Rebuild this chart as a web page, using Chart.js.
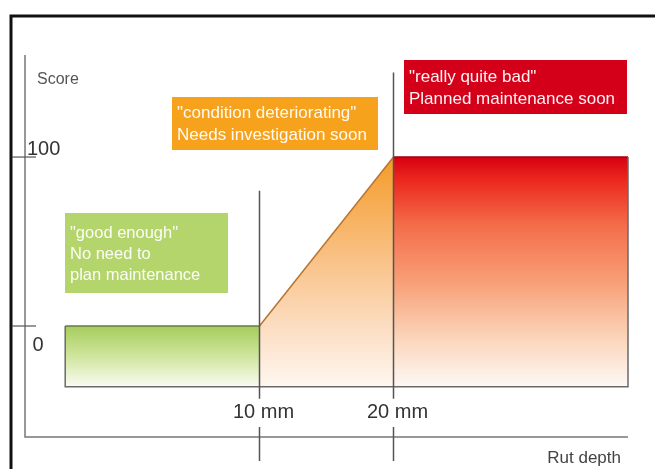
<!DOCTYPE html>
<html>
<head>
<meta charset="utf-8">
<title>Rut depth score</title>
<script src="https://cdn.jsdelivr.net/npm/chart.js@4.4.1/dist/chart.umd.min.js"></script>
<style>
  html, body { margin: 0; padding: 0; background: #fff; }
  #wrap { width: 655px; height: 469px; }
</style>
</head>
<body>
<div id="wrap"><canvas id="c" width="655" height="469"></canvas></div>
<script>
// Rut depth (mm) at the corners of the score curve
const rutDepth = [-4.5, 10, 20, 37.5];
// Score at each of those depths
const score = [0, 0, 100, 100];
// Lower edge of the shaded bands
const baseScore = -36;

// Condition zones: each spans two neighbouring curve points
const zoneNames = ['good enough', 'condition deteriorating', 'really quite bad'];
const zoneNotes = [
  ['"good enough"', 'No need to', 'plan maintenance'],
  ['"condition deteriorating"', 'Needs investigation soon'],
  ['"really quite bad"', 'Planned maintenance soon']
];

// Axis ticks
const xTickValues = [10, 20];
const xTickLabels = ['10 mm', '20 mm'];
const yTickValues = [100, 0];
const yTickLabels = ['100', '0'];
// How high the threshold markers reach (score units)
const markerTops = [80, 150];

const FONT = '"Liberation Sans", Arial, Helvetica, sans-serif';

function zoneData(i) {
  return [
    { x: rutDepth[i], y: score[i] },
    { x: rutDepth[i + 1], y: score[i + 1] }
  ];
}

function gradient(stops) {
  return function (ctx) {
    const chart = ctx.chart;
    const y = chart.scales.y;
    if (!y || !chart.chartArea) return stops[0][1];
    const top = y.getPixelForValue(stops.top);
    const bottom = y.getPixelForValue(baseScore);
    const g = chart.ctx.createLinearGradient(0, top, 0, bottom);
    stops.forEach(s => g.addColorStop(s[0], s[1]));
    return g;
  };
}

const greenStops = [[0, 'rgb(166,205,92)'], [0.5, 'rgb(208,229,158)'], [1, 'rgb(250,252,242)']];
greenStops.top = 0;
const orangeStops = [[0, 'rgb(245,155,40)'], [0.45, 'rgb(249,194,136)'], [0.75, 'rgb(252,222,195)'], [1, 'rgb(255,247,240)']];
orangeStops.top = 100;
const redStops = [[0, 'rgb(214,0,18)'], [0.1, 'rgb(236,40,30)'], [0.3, 'rgb(244,110,75)'], [0.55, 'rgb(248,160,120)'], [0.8, 'rgb(252,215,190)'], [1, 'rgb(253,248,245)']];
redStops.top = 100;

const zoneFills = [gradient(greenStops), gradient(orangeStops), gradient(redStops)];
const zoneLines = ['#66784a', '#b87530', '#a0000f'];

// Labelled boxes describing each zone (pixel layout)
const noteBoxes = [
  { left: 65, top: 213, w: 163, h: 80, color: '#b4d56c', line: 21, first: 233, size: 16.5 },
  { left: 172, top: 97, w: 206, h: 53, color: '#f6a21c', line: 22, first: 113, size: 17 },
  { left: 404, top: 60, w: 223, h: 54, color: '#d4001a', line: 22, first: 77, size: 17 }
];

const decor = {
  id: 'decor',
  beforeDraw(chart) {
    const c = chart.ctx;
    c.save();
    c.fillStyle = '#fff';
    c.fillRect(0, 0, chart.width, chart.height);
    c.restore();
  },
  afterDatasetsDraw(chart) {
    const c = chart.ctx;
    const xs = chart.scales.x, ys = chart.scales.y;
    const area = chart.chartArea;
    c.save();

    // outer frame
    c.strokeStyle = '#111';
    c.lineWidth = 3;
    c.beginPath();
    c.moveTo(11, chart.height + 2);
    c.lineTo(11, 16);
    c.lineTo(chart.width + 2, 16);
    c.stroke();

    // band outline (left, bottom, right)
    const x0 = xs.getPixelForValue(rutDepth[0]);
    const x1 = xs.getPixelForValue(rutDepth[rutDepth.length - 1]);
    const yb = ys.getPixelForValue(baseScore);
    c.strokeStyle = '#6a6a6a';
    c.lineWidth = 1.5;
    c.beginPath();
    c.moveTo(x0, ys.getPixelForValue(score[0]));
    c.lineTo(x0, yb);
    c.lineTo(x1, yb);
    c.lineTo(x1, ys.getPixelForValue(score[score.length - 1]));
    c.stroke();

    // axes
    c.strokeStyle = '#777';
    c.lineWidth = 1.5;
    c.beginPath();
    c.moveTo(area.left, area.top);
    c.lineTo(area.left, area.bottom);
    c.lineTo(area.right, area.bottom);
    c.stroke();

    // y ticks
    c.strokeStyle = '#555';
    c.lineWidth = 1.2;
    c.fillStyle = '#333';
    c.font = '20px ' + FONT;
    c.textBaseline = 'middle';
    yTickValues.forEach((v, i) => {
      const py = ys.getPixelForValue(v);
      c.beginPath();
      c.moveTo(12, py);
      c.lineTo(area.left + 11, py);
      c.stroke();
      if (v > 0) {
        c.textAlign = 'left';
        c.fillText(yTickLabels[i], area.left + 2, py - 8);
      } else {
        c.textAlign = 'center';
        c.fillText(yTickLabels[i], area.left + 13, py + 19);
      }
    });

    // threshold markers and x tick labels
    c.strokeStyle = '#555';
    c.lineWidth = 1.5;
    xTickValues.forEach((v, i) => {
      const px = xs.getPixelForValue(v);
      c.beginPath();
      c.moveTo(px, ys.getPixelForValue(markerTops[i]));
      c.lineTo(px, yb + 12);
      c.moveTo(px, area.bottom - 10);
      c.lineTo(px, chart.height - 8);
      c.stroke();
      c.textAlign = 'center';
      c.fillStyle = '#333';
      c.font = '20px ' + FONT;
      c.fillText(xTickLabels[i], px + 4, yb + 26);
    });

    // axis titles
    c.fillStyle = '#555';
    c.font = '16px ' + FONT;
    c.textAlign = 'left';
    c.fillText('Score', area.left + 12, 80);
    c.fillStyle = '#444';
    c.font = '17px ' + FONT;
    c.textAlign = 'right';
    c.fillText('Rut depth', area.right - 7, area.bottom + 21);

    // zone notes
    noteBoxes.forEach((b, i) => {
      c.fillStyle = b.color;
      c.fillRect(b.left, b.top, b.w, b.h);
      c.fillStyle = 'rgba(255,255,255,0.95)';
      c.font = b.size + 'px ' + FONT;
      c.textAlign = 'left';
      c.textBaseline = 'middle';
      zoneNotes[i].forEach((t, j) => c.fillText(t, b.left + 5, b.first + j * b.line));
    });

    c.restore();
  }
};

new Chart(document.getElementById('c'), {
  type: 'line',
  data: {
    datasets: zoneNames.map((name, i) => ({
      label: name,
      data: zoneData(i),
      borderColor: zoneLines[i],
      borderWidth: 1.5,
      backgroundColor: zoneFills[i],
      fill: { value: baseScore },
      pointRadius: 0,
      tension: 0
    }))
  },
  options: {
    responsive: false,
    animation: false,
    events: [],
    layout: { padding: { left: 25, right: 27, top: 55, bottom: 32 } },
    scales: {
      x: { type: 'linear', min: -7.5, max: 37.5, display: false },
      y: { type: 'linear', min: -65.7, max: 160.4, display: false }
    },
    plugins: {
      legend: { display: false },
      tooltip: { enabled: false },
      title: { display: false }
    }
  },
  plugins: [decor]
});
</script>
</body>
</html>
